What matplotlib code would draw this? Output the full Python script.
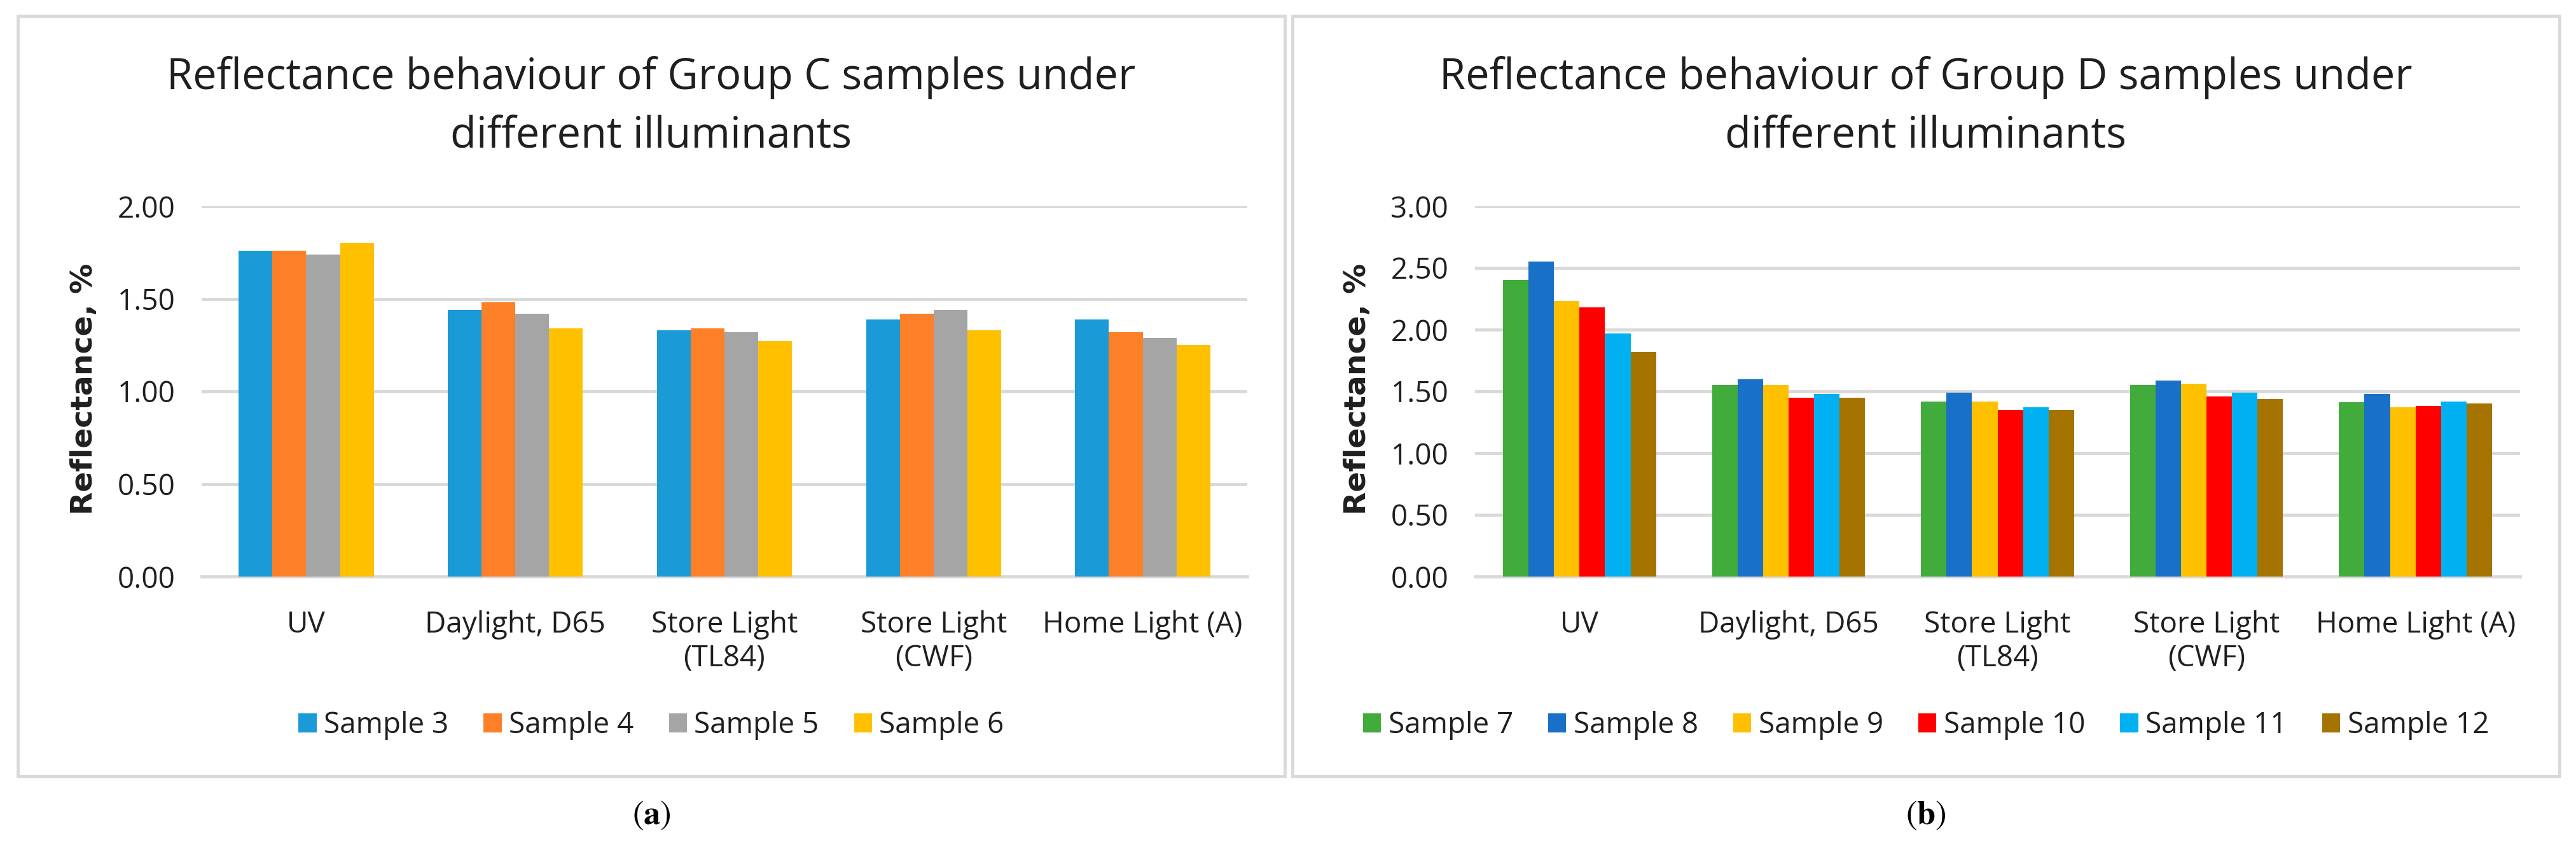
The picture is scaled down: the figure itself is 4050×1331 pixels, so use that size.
import numpy as np
import matplotlib
matplotlib.use('Agg')
import matplotlib.pyplot as plt
from matplotlib.patches import Rectangle

plt.rcParams['font.family'] = ['Open Sans', 'DejaVu Sans']
plt.rcParams['mathtext.fontset'] = 'stix'

categories = ['UV', 'Daylight, D65', 'Store Light\n(TL84)', 'Store Light\n(CWF)', 'Home Light (A)']

# group C (panel a)
names_c = ['Sample 3', 'Sample 4', 'Sample 5', 'Sample 6']
colors_c = ['#1A9AD6', '#FD7F28', '#A5A5A5', '#FFC000']
sample3 = [1.76, 1.44, 1.33, 1.39, 1.39]
sample4 = [1.76, 1.48, 1.34, 1.42, 1.32]
sample5 = [1.74, 1.42, 1.32, 1.44, 1.29]
sample6 = [1.80, 1.34, 1.27, 1.33, 1.25]

# group D (panel b)
names_d = ['Sample 7', 'Sample 8', 'Sample 9', 'Sample 10', 'Sample 11', 'Sample 12']
colors_d = ['#41AB3B', '#1870C8', '#FFC000', '#FF0000', '#00B0F0', '#A57300']
sample7 = [2.40, 1.55, 1.42, 1.55, 1.41]
sample8 = [2.55, 1.60, 1.49, 1.59, 1.48]
sample9 = [2.23, 1.55, 1.42, 1.56, 1.37]
sample10 = [2.18, 1.45, 1.35, 1.46, 1.38]
sample11 = [1.97, 1.48, 1.37, 1.49, 1.42]
sample12 = [1.82, 1.45, 1.35, 1.44, 1.40]

W, H = 4050, 1331
fig = plt.figure(figsize=(W/100, H/100), dpi=100)

def rect(x0, y0, x1, y1):
    return [x0/W, 1-y1/H, (x1-x0)/W, (y1-y0)/H]

grid_c = '#D9D9D9'
txt_c = '#1F1F1F'

def panel(bx0, bx1, ax_x0, ax_x1, title, names, colors, data, ymax, label):
    # panel frame
    fig.patches.append(Rectangle((bx0/W, 1-1220/H), (bx1-bx0)/W, (1220-25)/H,
                                 transform=fig.transFigure, fill=False,
                                 edgecolor=grid_c, linewidth=3.5))
    ax = fig.add_axes(rect(ax_x0, 324, ax_x1, 906))
    n = len(names)
    w = 1/(n+2.19)
    x = np.arange(len(categories))
    for i in range(n):
        ax.bar(x + (i-(n-1)/2)*w, data[i], width=w, color=colors[i], label=names[i], zorder=3)
    ax.set_xlim(-0.5, len(categories)-0.5)
    ax.set_ylim(0, ymax)
    yt = np.arange(0, ymax+0.01, 0.5)
    ax.set_yticks(yt)
    ax.set_yticklabels(['%.2f' % v for v in yt])
    ax.set_xticks(x)
    ax.set_xticklabels(categories, linespacing=1.2)
    for s in ['top', 'left', 'right']:
        ax.spines[s].set_visible(False)
    ax.spines['bottom'].set_color(grid_c)
    ax.spines['bottom'].set_linewidth(3.5)
    ax.yaxis.grid(True, color=grid_c, linewidth=3.5, zorder=0)
    ax.set_axisbelow(True)
    ax.tick_params(axis='both', length=0, labelsize=33, colors=txt_c)
    ax.tick_params(axis='x', pad=38)
    ax.tick_params(axis='y', pad=30)
    cx = (bx0+bx1)/2
    fig.text(cx/W, 1-140/H, title[0], ha='center', va='baseline', fontsize=48, color=txt_c)
    fig.text(cx/W, 1-232/H, title[1], ha='center', va='baseline', fontsize=48, color=txt_c)
    fig.text((ax_x0-184)/W, 1-611/H, 'Reflectance, %', rotation=90, ha='center',
             va='center', fontsize=34, fontweight='bold', color=txt_c,
             family=['DejaVu Sans'])
    ax.legend(loc='center', bbox_to_anchor=(cx/W, 1-1140/H), bbox_transform=fig.transFigure,
              ncol=n, frameon=False, fontsize=33, handlelength=0.62, handleheight=0.62,
              handletextpad=0.25, columnspacing=1.2, labelcolor=txt_c)
    fig.text(cx/W, 1-1282/H, r'($\mathbf{%s}$)' % label, ha='center', va='center',
             fontsize=38, family=['STIXGeneral'])
    return ax

panel(28, 2020, 317, 1961,
      ['Reflectance behaviour of Group C samples under', 'different illuminants'],
      names_c, colors_c, [sample3, sample4, sample5, sample6], 2.0, 'a')
panel(2032, 4024, 2319, 3962,
      ['Reflectance behaviour of Group D samples under', 'different illuminants'],
      names_d, colors_d, [sample7, sample8, sample9, sample10, sample11, sample12], 3.0, 'b')

fig.savefig('out.png', dpi=100)
